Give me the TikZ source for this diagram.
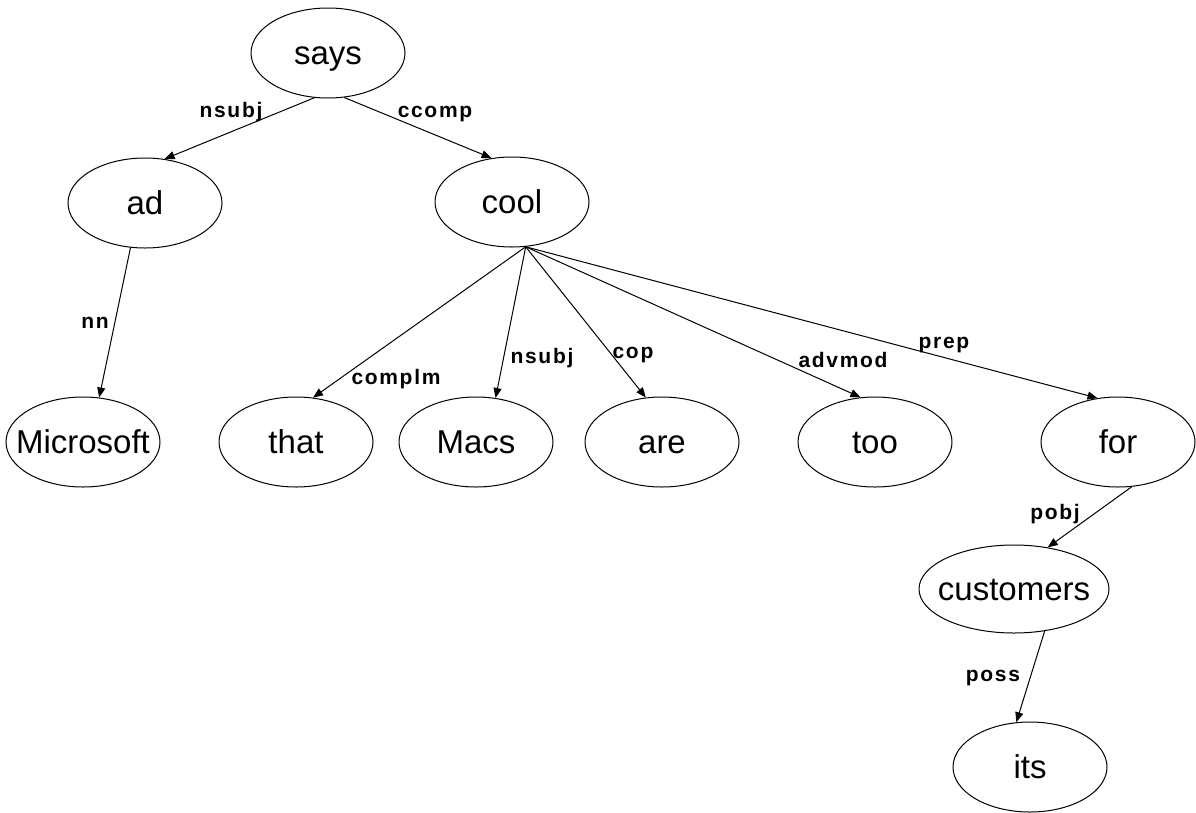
\documentclass[tikz,border=0pt]{standalone}
\usepackage{fontspec}
\setmainfont{Liberation Sans}
\newfontfamily\lblfont[LetterSpace=8]{Liberation Sans}
\usetikzlibrary{shapes.geometric,arrows.meta}
\newcommand\wordtxt[1]{\makebox[0pt]{#1}}
\begin{document}
\begin{tikzpicture}[x=1pt,y=-1pt,
  word/.style={ellipse, draw, line width=1pt, inner sep=0pt,
    minimum width=154pt, minimum height=90pt,
    font=\fontsize{33}{36}\selectfont, text height=23pt, text depth=0pt},
  wide/.style={word, minimum width=190pt, minimum height=88pt},
  dep/.style={draw, line width=1pt, -{Triangle[length=10pt,width=8pt]}},
  lbl/.style={font=\lblfont\bfseries\fontsize{21}{24}\selectfont, anchor=base, inner sep=0pt}]
\useasboundingbox (0,0) rectangle (1196,812);
\fill[white] (0,0) rectangle (1196,812);

\node[word] (says) at (328,53) {\wordtxt{says}};
\node[word] (ad) at (145,203) {\wordtxt{ad}};
\node[word] (cool) at (512,202) {\wordtxt{cool}};
\node[word] (ms) at (83,442) {\wordtxt{Microsoft}};
\node[word] (that) at (296,442) {\wordtxt{that}};
\node[word] (macs) at (476,442) {\wordtxt{Macs}};
\node[word] (are) at (662,442) {\wordtxt{are}};
\node[word] (too) at (875,442) {\wordtxt{too}};
\node[word] (for) at (1118,442) {\wordtxt{for}};
\node[wide] (cust) at (1014,589) {\wordtxt{customers}};
\node[word] (its) at (1030,767) {\wordtxt{its}};

\draw[dep] (says.253) -- (ad.66);
\draw[dep] (says.290) -- (cool.115);
\draw[dep] (ad.252) -- (ms.70);
\draw[dep] (cool.287) -- (that.69);
\draw[dep] (cool.287) -- (macs.66);
\draw[dep] (cool.287) -- (are.110);
\draw[dep] (cool.287) -- (too.108);
\draw[dep] (cool.287) -- (for.115);
\draw[dep] (for.287) -- (cust.51);
\draw[dep] (cust.306) -- (its.107);

\node[lbl] (l1) at (231,117) {nsubj};
\node[lbl] (l2) at (435,117) {ccomp};
\node[lbl] (l3) at (95,328) {nn};
\node[lbl] (l4) at (396,384) {complm};
\node[lbl] (l5) at (542,363) {nsubj};
\node[lbl] (l6) at (633,358) {cop};
\node[lbl] (l7) at (843,367) {advmod};
\node[lbl] (l8) at (944,348) {prep};
\node[lbl] (l9) at (1055,519) {pobj};
\node[lbl] (l10) at (993,681) {poss};
\end{tikzpicture}
\end{document}
